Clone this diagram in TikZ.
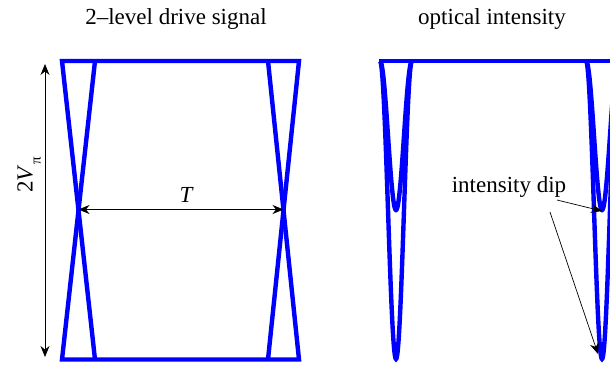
\documentclass[tikz,border=0pt]{standalone}
\usepackage{fontspec}
\setmainfont{Liberation Serif}
\usetikzlibrary{arrows.meta}
\definecolor{sigblue}{RGB}{0,0,255}
\tikzset{
  sig/.style={draw=sigblue, line width=4.4bp, line join=miter},
  dim/.style={draw=black, line width=0.8bp, {Stealth[length=11bp,width=9bp]}-{Stealth[length=11bp,width=9bp]}},
  pointer/.style={draw=black, line width=0.7bp, -{Stealth[length=11bp,width=9bp]}},
  lbl/.style={font=\fontsize{23bp}{27bp}\selectfont, inner sep=0pt}
}
\begin{document}
\begin{tikzpicture}[x=1bp, y=-1bp]
\useasboundingbox (0,0) rectangle (610,365);
\clip (0,0) rectangle (610,365);
% titles
\node[lbl] (t1) at (176,19) {2–level drive signal};
\node[lbl] (t2) at (492,19) {optical intensity};
% drive signal
\draw[sig] (95,359.5) -- (62,61) -- (299,61) -- (268,359.5);
\draw[sig] (95,61) -- (62,359.5) -- (299,359.5) -- (268,61);
\coordinate (cl) at (78.5,209.5);
\coordinate (cr) at (283.5,209.5);
\draw[dim] (cl) -- (cr);
\node[lbl, font=\fontsize{23bp}{27bp}\selectfont\itshape] (T) at (186,195) {T};
\coordinate (vt) at (45,64);
\coordinate (vb) at (45,357);
\draw[dim] (vt) -- (vb);
\node[lbl, rotate=90] (vpi) at (29,175) {2\textit{V}\raisebox{-0.35em}{\fontsize{15bp}{15bp}\selectfont π}};
% optical intensity
\draw[sig] (379,61) -- (620,61);
\draw[sig] plot[domain=0:2, samples=81, smooth] ({380+16*\x}, {61+298*sin(90*\x)*sin(90*\x)});
\draw[sig] plot[domain=0:2, samples=81, smooth] ({380+16*\x}, {61+149*sin(90*\x)*sin(90*\x)});
\draw[sig] plot[domain=0:2, samples=81, smooth] ({586+16*\x}, {61+298*sin(90*\x)*sin(90*\x)});
\draw[sig] plot[domain=0:2, samples=81, smooth] ({586+16*\x}, {61+149*sin(90*\x)*sin(90*\x)});
\node[lbl] (dip) at (509,187) {intensity dip};
\coordinate (a1s) at (557,200);
\coordinate (a1e) at (602,211);
\coordinate (a2s) at (550,212);
\coordinate (a2e) at (598,354);
\draw[pointer] (a1s) -- (a1e);
\draw[pointer] (a2s) -- (a2e);
\end{tikzpicture}
\end{document}
